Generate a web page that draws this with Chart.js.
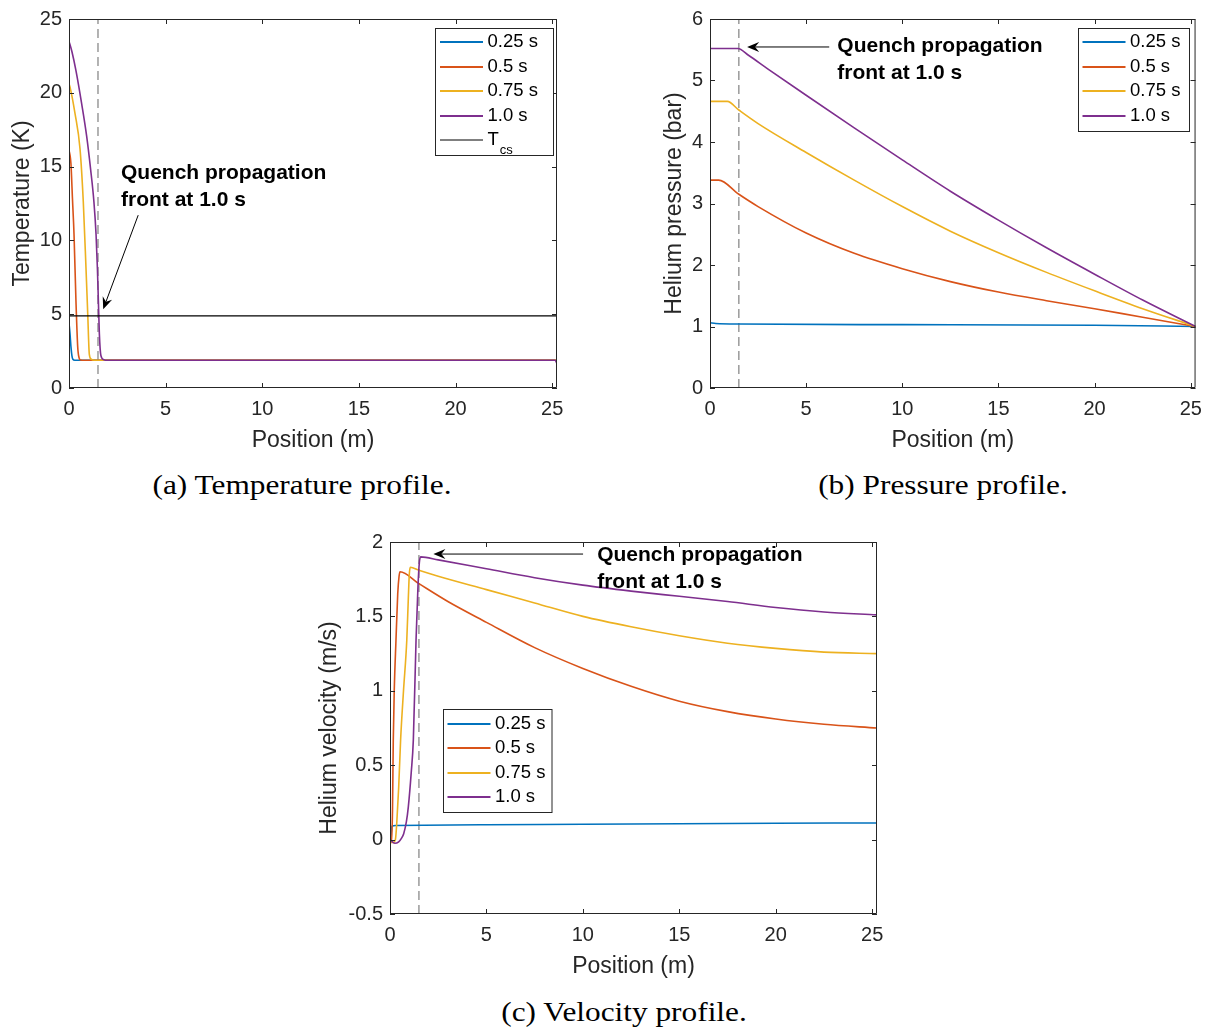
<!DOCTYPE html>
<html>
<head>
<meta charset="utf-8">
<script src="https://cdn.jsdelivr.net/npm/chart.js@4.4.0/dist/chart.umd.min.js"></script>
<style>
  body { margin: 0; background: #fff; width: 1211px; height: 1030px; position: relative; overflow: hidden; }
  canvas { position: absolute; }
  .cap { position: absolute; font-family: "Liberation Serif", "Times New Roman", serif; font-size: 27px; line-height: 30px;
         color: #000; white-space: nowrap; transform: translateX(-50%) scaleX(1.16); }
</style>
</head>
<body>
<canvas id="tempChart" width="600" height="460" style="left:0;top:0"></canvas>
<canvas id="presChart" width="571" height="460" style="left:640px;top:0"></canvas>
<canvas id="velChart" width="620" height="466" style="left:310px;top:520px"></canvas>
<div class="cap" style="left:302px;top:470px">(a) Temperature profile.</div>
<div class="cap" style="left:943px;top:470px">(b) Pressure profile.</div>
<div class="cap" style="left:624px;top:997px">(c) Velocity profile.</div>
<script>
// tick labels
const xTicks = [0, 5, 10, 15, 20, 25];
const tempTicks = [0, 5, 10, 15, 20, 25];
const presTicks = [0, 1, 2, 3, 4, 5, 6];
const velTicks = [-0.5, 0, 0.5, 1, 1.5, 2];
const posMax = 25.25;
const frontPos = 1.5;

const seriesLabels = ['0.25 s', '0.5 s', '0.75 s', '1.0 s'];
const seriesColors = ['#0072BD', '#D95319', '#EDB120', '#7E2F8E'];

// (a) temperature (K) vs position (m)
const tempX025 = [0, 0.05, 0.1, 0.15, 0.2, 0.3, 0.5, 25.25];
const tempY025 = [4.4, 3.7, 2.8, 2.2, 1.95, 1.88, 1.88, 1.88];
const tempX050 = [0, 0.05, 0.1, 0.18, 0.26, 0.36, 0.45, 0.52, 0.6, 0.8, 25.25];
const tempY050 = [16.1, 15.8, 15.2, 12.8, 10.4, 5.9, 2.8, 2.05, 1.9, 1.88, 1.88];
const tempX075 = [0, 0.05, 0.31, 0.57, 0.74, 0.88, 0.97, 1.05, 1.15, 1.3, 25.25];
const tempY075 = [20.6, 20.4, 18.6, 16.2, 12.6, 8.1, 5.0, 2.3, 1.95, 1.88, 1.88];
const tempX100 = [0, 0.15, 0.36, 0.65, 0.91, 1.12, 1.29, 1.4, 1.47, 1.52, 1.57, 1.65, 1.8, 2.0, 25.15, 25.25];
const tempY100 = [23.5, 22.8, 21.5, 19.3, 17.1, 14.8, 12.6, 10.4, 8.1, 5.9, 3.7, 2.2, 1.92, 1.88, 1.88, 1.65];
const tcsX = [0, 25.25];
const tcsY = [4.88, 4.88];

// (b) helium pressure (bar)
const presX025 = [0, 0.3, 1.5, 10, 20, 25.25];
const presY025 = [1.06, 1.05, 1.04, 1.03, 1.02, 1.0];
const presX050 = [0, 0.45, 1.5, 2.5, 5, 7.5, 10, 12.5, 15, 17.5, 20, 22.5, 25.25];
const presY050 = [3.38, 3.38, 3.15, 2.95, 2.52, 2.19, 1.94, 1.73, 1.56, 1.42, 1.29, 1.15, 1.0];
const presX075 = [0, 0.9, 1.5, 2.5, 5, 7.5, 10, 12.5, 15, 17.5, 20, 22.5, 25.25];
const presY075 = [4.66, 4.66, 4.52, 4.3, 3.83, 3.38, 2.95, 2.55, 2.2, 1.88, 1.58, 1.29, 1.0];
const presX100 = [0, 1.45, 2, 3, 5, 7.5, 10, 12.5, 15, 17.5, 20, 22.5, 25.25];
const presY100 = [5.52, 5.52, 5.41, 5.19, 4.76, 4.23, 3.71, 3.2, 2.73, 2.28, 1.85, 1.43, 1.0];

// (c) helium velocity (m/s)
const velX025 = [0, 0.05, 0.1, 0.3, 5, 10, 15, 20, 25.25];
const velY025 = [0.0, 0.03, 0.09, 0.095, 0.1, 0.103, 0.107, 0.11, 0.112];
const velX050 = [0, 0.08, 0.13, 0.17, 0.22, 0.31, 0.4, 0.47, 0.52, 1.5, 3, 5, 7.5, 10, 12.5, 15, 17.5, 20, 22.5, 25.25];
const velY050 = [0.0, -0.02, 0.2, 0.67, 1.0, 1.34, 1.65, 1.77, 1.8, 1.72, 1.6, 1.46, 1.29, 1.15, 1.03, 0.93, 0.86, 0.81, 0.775, 0.75];
const velX075 = [0, 0.15, 0.28, 0.35, 0.45, 0.55, 0.7, 0.87, 0.95, 1.0, 1.05, 1.5, 2.5, 5, 7.5, 10, 12.5, 15, 17.5, 20, 22.5, 25.25];
const velY075 = [0.0, -0.02, 0.0, 0.11, 0.35, 0.67, 1.0, 1.34, 1.62, 1.78, 1.83, 1.81, 1.77, 1.68, 1.59, 1.5, 1.43, 1.37, 1.32, 1.285, 1.26, 1.25];
const velX100 = [0, 0.25, 0.45, 0.6, 0.71, 0.85, 0.95, 1.1, 1.21, 1.35, 1.45, 1.52, 1.59, 2.5, 5, 7.5, 10, 12.5, 15, 17.5, 20, 22.5, 25.25];
const velY100 = [0.0, -0.025, -0.015, 0.01, 0.04, 0.12, 0.22, 0.45, 0.67, 1.34, 1.7, 1.86, 1.9, 1.88, 1.82, 1.76, 1.71, 1.67, 1.635, 1.6, 1.56, 1.53, 1.51];

const noteLines = ['Quench propagation', 'front at 1.0 s'];
const axisColor = '#262626';

Chart.defaults.font.family = '"Liberation Sans", Arial, sans-serif';
Chart.defaults.color = axisColor;

function line(label, xs, ys, color, order, extra) {
    return Object.assign({
        label: label,
        data: xs.map((x, i) => ({ x: x, y: ys[i] })),
        borderColor: color,
        backgroundColor: color,
        borderWidth: 1.6,
        pointRadius: 0,
        cubicInterpolationMode: 'monotone',
        fill: false,
        order: order
    }, extra || {});
}

function frontLine(yTicks) {
    return {
        label: '',
        data: [{ x: frontPos, y: yTicks[0] }, { x: frontPos, y: yTicks[yTicks.length - 1] }],
        borderColor: '#8a8a8a',
        borderWidth: 1.3,
        borderDash: [9, 5],
        pointRadius: 0,
        order: 10,
        noLegend: true
    };
}

function arrow(ctx, x1, y1, x2, y2) {
    const ang = Math.atan2(y2 - y1, x2 - x1);
    const c = Math.cos(ang), s = Math.sin(ang);
    const L = 12, W = 5, back = 4;
    ctx.beginPath();
    ctx.moveTo(x1, y1);
    ctx.lineTo(x2 - c * (L - back), y2 - s * (L - back));
    ctx.stroke();
    ctx.beginPath();
    ctx.moveTo(x2, y2);
    ctx.lineTo(x2 - L * c + W * s, y2 - L * s - W * c);
    ctx.lineTo(x2 - (L - back) * c, y2 - (L - back) * s);
    ctx.lineTo(x2 - L * c - W * s, y2 - L * s + W * c);
    ctx.closePath();
    ctx.fill();
}

// box, inward ticks, annotation and legend drawn MATLAB style
const matlabAxes = {
    id: 'matlabAxes',
    afterDatasetsDraw(chart, args, opts) {
        const { ctx, chartArea: a } = chart;
        const sx = chart.scales.x, sy = chart.scales.y;
        ctx.save();
        ctx.strokeStyle = axisColor;
        ctx.lineWidth = 1;
        ctx.beginPath();
        ctx.rect(a.left + 0.5, a.top + 0.5, a.width - 1, a.height - 1);
        sx.ticks.forEach(t => {
            const p = Math.round(sx.getPixelForValue(t.value)) + 0.5;
            ctx.moveTo(p, a.bottom); ctx.lineTo(p, a.bottom - 5);
            ctx.moveTo(p, a.top); ctx.lineTo(p, a.top + 5);
        });
        sy.ticks.forEach(t => {
            const p = Math.round(sy.getPixelForValue(t.value)) + 0.5;
            ctx.moveTo(a.left, p); ctx.lineTo(a.left + 5, p);
            ctx.moveTo(a.right, p); ctx.lineTo(a.right - 5, p);
        });
        ctx.stroke();

        // annotation
        const n = opts.note;
        if (n) {
            ctx.fillStyle = '#000';
            ctx.strokeStyle = '#000';
            ctx.lineWidth = 1;
            arrow(ctx, sx.getPixelForValue(n.from[0]), sy.getPixelForValue(n.from[1]),
                sx.getPixelForValue(n.to[0]), sy.getPixelForValue(n.to[1]));
            ctx.font = 'bold 21px "Liberation Sans", Arial, sans-serif';
            ctx.textAlign = 'left';
            ctx.textBaseline = 'middle';
            const tx = sx.getPixelForValue(n.x), ty = sy.getPixelForValue(n.y);
            noteLines.forEach((txt, i) => ctx.fillText(txt, tx, ty + i * 27));
        }

        // legend
        const lg = opts.legend;
        if (lg) {
            const items = chart.data.datasets.filter(d => !d.noLegend);
            const h = 14.5 * 2 + (items.length - 1) * 24.5;
            ctx.fillStyle = '#fff';
            ctx.fillRect(lg.left, lg.top, lg.width, h);
            ctx.strokeStyle = axisColor;
            ctx.lineWidth = 1;
            ctx.strokeRect(Math.round(lg.left) + 0.5, Math.round(lg.top) + 0.5, lg.width, Math.round(h));
            items.forEach((d, i) => {
                const y = Math.round(lg.top + 14.5 + i * 24.5);
                ctx.strokeStyle = d.borderColor;
                ctx.lineWidth = d.legendWidth || 2;
                ctx.beginPath();
                ctx.moveTo(lg.left + 5, y);
                ctx.lineTo(lg.left + 48, y);
                ctx.stroke();
                ctx.fillStyle = '#000';
                ctx.font = '18.5px "Liberation Sans", Arial, sans-serif';
                ctx.textAlign = 'left';
                ctx.textBaseline = 'middle';
                ctx.fillText(d.label, lg.left + 52.5, y);
                if (d.subscript) {
                    const w = ctx.measureText(d.label).width;
                    ctx.font = '13px "Liberation Sans", Arial, sans-serif';
                    ctx.fillText(d.subscript, lg.left + 52.5 + w + 1, y + 10);
                }
            });
        }
        ctx.restore();
    }
};

function scalesFor(yTicks, yTitle, yWidth, yTitlePad) {
    return {
        x: {
            type: 'linear', min: 0, max: posMax,
            afterBuildTicks: s => { s.ticks = xTicks.map(v => ({ value: v })); },
            afterFit: s => { s.height = 72; },
            grid: { display: false, drawTicks: false },
            border: { display: false },
            ticks: { padding: 9, font: { size: 20 }, color: axisColor, maxRotation: 0, autoSkip: false, callback: v => String(v) },
            title: { display: true, text: 'Position (m)', font: { size: 23 }, color: axisColor, padding: { top: 0, bottom: 6 } }
        },
        y: {
            type: 'linear', min: yTicks[0], max: yTicks[yTicks.length - 1],
            afterBuildTicks: s => { s.ticks = yTicks.map(v => ({ value: v })); },
            afterFit: s => { s.width = yWidth; },
            grid: { display: false, drawTicks: false },
            border: { display: false },
            ticks: { padding: 7, font: { size: 20 }, color: axisColor, autoSkip: false, callback: v => String(v) },
            title: { display: true, text: yTitle, font: { size: 23 }, color: axisColor, padding: { top: yTitlePad, bottom: 0 } }
        }
    };
}

function makeChart(id, datasets, scales, padding, plugOpts) {
    return new Chart(document.getElementById(id), {
        type: 'line',
        data: { datasets: datasets },
        options: {
            responsive: false,
            animation: false,
            layout: { padding: padding },
            scales: scales,
            plugins: {
                legend: { display: false },
                tooltip: { enabled: false },
                matlabAxes: plugOpts
            }
        },
        plugins: [matlabAxes]
    });
}

makeChart('tempChart', [
    line(seriesLabels[0], tempX025, tempY025, seriesColors[0], 5),
    line(seriesLabels[1], tempX050, tempY050, seriesColors[1], 4),
    line(seriesLabels[2], tempX075, tempY075, seriesColors[2], 3),
    line(seriesLabels[3], tempX100, tempY100, seriesColors[3], 2),
    line('T', tcsX, tcsY, '#000', 1, { borderWidth: 1.2, legendWidth: 1, subscript: 'cs', cubicInterpolationMode: 'default' }),
    frontLine(tempTicks)
], scalesFor(tempTicks, 'Temperature (K)', 69, 9), { left: 0, top: 15, right: 43, bottom: 0 }, {
    note: { x: 2.69, y: 14.54, from: [3.58, 11.71], to: [1.77, 5.34] },
    legend: { left: 435, top: 27.5, width: 118 }
});

makeChart('presChart', [
    line(seriesLabels[0], presX025, presY025, seriesColors[0], 5),
    line(seriesLabels[1], presX050, presY050, seriesColors[1], 4),
    line(seriesLabels[2], presX075, presY075, seriesColors[2], 3),
    line(seriesLabels[3], presX100, presY100, seriesColors[3], 2),
    frontLine(presTicks)
], scalesFor(presTicks, 'Helium pressure (bar)', 70, 21), { left: 0, top: 15, right: 13, bottom: 0 }, {
    note: { x: 6.62, y: 5.565, from: [6.2, 5.545], to: [1.93, 5.545] },
    legend: { left: 437.5, top: 27.5, width: 111 }
});

makeChart('velChart', [
    line(seriesLabels[0], velX025, velY025, seriesColors[0], 5),
    line(seriesLabels[1], velX050, velY050, seriesColors[1], 4),
    line(seriesLabels[2], velX075, velY075, seriesColors[2], 3),
    line(seriesLabels[3], velX100, velY100, seriesColors[3], 2),
    frontLine(velTicks)
], scalesFor(velTicks, 'Helium velocity (m/s)', 80, 6), { left: 0, top: 22, right: 53, bottom: 0 }, {
    note: { x: 10.74, y: 1.913, from: [10.01, 1.919], to: [2.25, 1.919] },
    legend: { left: 132.5, top: 189, width: 108.5 }
});
</script>
</body>
</html>
